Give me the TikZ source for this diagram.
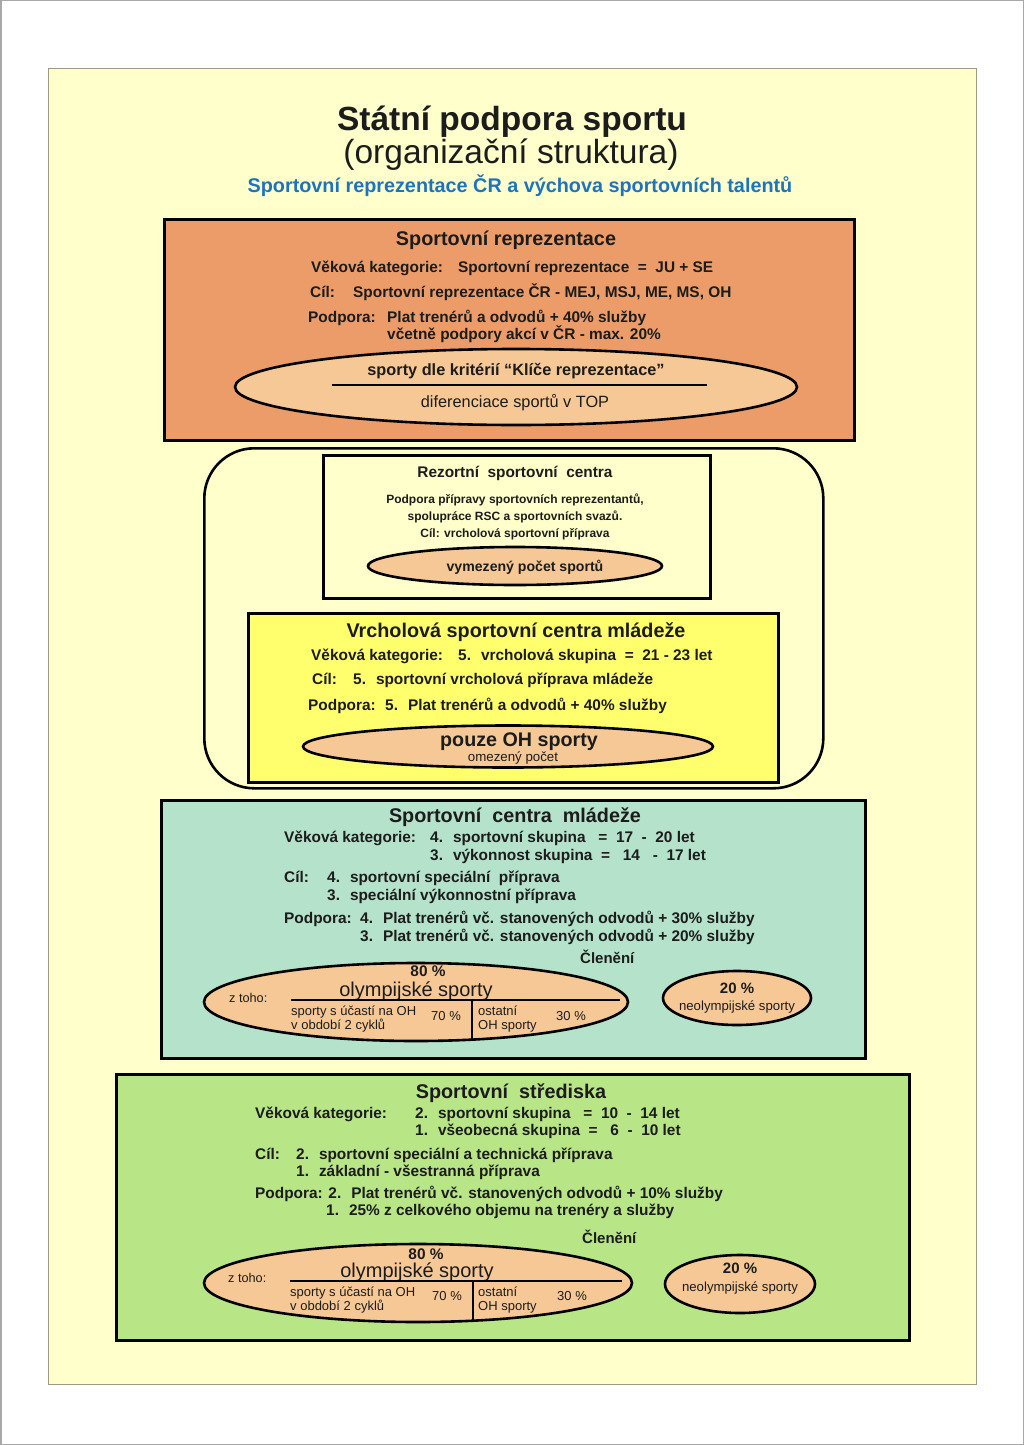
\documentclass[tikz,border=0pt]{standalone}
\usepackage{fontspec}
\setmainfont{Liberation Sans}
\usetikzlibrary{shapes.geometric}
\definecolor{bgy}{HTML}{FFFFCC}
\definecolor{bgline}{HTML}{9C9C84}
\definecolor{pageline}{HTML}{A8A8A8}
\definecolor{orng}{HTML}{EC9C68}
\definecolor{peach}{HTML}{F6C896}
\definecolor{ylw}{HTML}{FFFF6E}
\definecolor{mint}{HTML}{B5E2CB}
\definecolor{lgreen}{HTML}{B8E586}
\definecolor{blu}{HTML}{1E73BE}
\definecolor{ink}{HTML}{1C1C1C}
\newcommand\fsz[1]{\fontsize{#1pt}{#1pt}\selectfont}
\begin{document}
\begin{tikzpicture}[x=1pt,y=-1pt,
  txt/.style={inner sep=0pt, text=ink},
  ttl/.style={txt, font=\bfseries\fsz{33.5}, anchor=base},
  ttlr/.style={txt, font=\fsz{33.5}, anchor=base},
  sub/.style={txt, font=\bfseries\fsz{19.8}, text=blu, anchor=base},
  hd/.style={txt, font=\bfseries\fsz{19.8}, anchor=base},
  fb/.style={txt, font=\bfseries\fsz{15.4}, anchor=base west},
  rb/.style={txt, font=\bfseries\fsz{12}, anchor=base},
  elb/.style={txt, font=\bfseries\fsz{#1}, anchor=base},
  elr/.style={txt, font=\fsz{#1}, anchor=base},
  smr/.style={txt, font=\fsz{13}, anchor=base west},
  box/.style={draw=black, line width=3pt, anchor=north west, inner sep=0pt},
  oval/.style={ellipse, draw=black, line width=2.6pt, fill=peach, inner sep=0pt},
  sep/.style={draw=black, line width=2.6pt},
]
\useasboundingbox (0,0) rectangle (1024,1445);
\fill[white] (0,0) rectangle (1024,1445);
\draw[pageline, line width=1.5pt] (0.75,0.75) rectangle (1023.25,1444.25);
\node[draw=bgline, fill=bgy, line width=1.2pt, anchor=north west, inner sep=0pt,
  minimum width=928pt, minimum height=1316pt] (bg) at (48,68) {};

% titles
\node[ttl] (t1) at (512,130) {Státní podpora sportu};
\node[ttlr] (t2) at (511,163) {(organizační struktura)};
\node[sub] (t3) at (520,192) {Sportovní reprezentace ČR a výchova sportovních talentů};

% ---------- Box 1: Sportovni reprezentace
\node[box, fill=orng, minimum width=690pt, minimum height=221pt] (b1) at (163,218) {};
\node[hd] (b1t) at (506,245) {Sportovní reprezentace};
\node[fb] (b1a) at (311,272.5) {Věková kategorie:};
\node[fb] (b1b) at (458,272.5) {Sportovní reprezentace~ =~ JU + SE};
\node[fb] (b1c) at (310,297.5) {Cíl:};
\node[fb] (b1d) at (353,297.5) {Sportovní reprezentace ČR - MEJ, MSJ, ME, MS, OH};
\node[fb] (b1e) at (308,322.5) {Podpora:};
\node[fb] (b1f) at (387,322.5) {Plat trenérů a odvodů + 40\% služby};
\node[fb] (b1g) at (387,339.5) {včetně podpory akcí v ČR - max. 20\%};
\node[oval, minimum width=562pt, minimum height=76pt] (e1) at (516,387) {};
\coordinate (e1l) at (332,385);
\coordinate (e1r) at (707,385);
\draw[sep] (e1l) -- (e1r);
\node[elb=16.3] (e1a) at (516,375) {sporty dle kritérií “Klíče reprezentace”};
\node[elr=16.3] (e1b) at (515,407) {diferenciace sportů v TOP};

% ---------- Rounded group
\node[draw=black, line width=2.6pt, fill=bgy, rounded corners=50pt, anchor=north west,
  inner sep=0pt, minimum width=619pt, minimum height=340pt] (grp) at (203,447) {};

% RSC
\node[box, line width=2.6pt, fill=bgy, minimum width=387pt, minimum height=143pt] (b2) at (322,454) {};
\node[elb=15.4] (b2t) at (515,477.5) {Rezortní~ sportovní~ centra};
\node[rb] (b2a) at (515,503.3) {Podpora přípravy sportovních reprezentantů,};
\node[rb] (b2b) at (515,520.3) {spolupráce RSC a sportovních svazů.};
\node[rb] (b2c) at (515,537.3) {Cíl: vrcholová sportovní příprava};
\node[oval, minimum width=294pt, minimum height=38pt] (e2) at (515,566) {};
\node[elb=14.1] (e2a) at (525,571) {vymezený počet sportů};

% VSCM
\node[box, fill=ylw, minimum width=530pt, minimum height=169pt] (b3) at (247,612) {};
\node[hd] (b3t) at (516,637) {Vrcholová sportovní centra mládeže};
\node[fb] (b3a) at (311,660.5) {Věková kategorie:};
\node[fb] (b3b) at (458,660.5) {5.~ vrcholová skupina~ =~ 21 - 23 let};
\node[fb] (b3c) at (312,684.5) {Cíl:};
\node[fb] (b3d) at (353,684.5) {5.~ sportovní vrcholová příprava mládeže};
\node[fb] (b3e) at (308,710.5) {Podpora:};
\node[fb] (b3f) at (385,710.5) {5.~ Plat trenérů a odvodů + 40\% služby};
\node[oval, minimum width=410pt, minimum height=42pt] (e3) at (508,746.5) {};
\node[elb=19.7] (e3a) at (519,746.5) {pouze OH sporty};
\node[elr=13.3] (e3b) at (513,761) {omezený počet};

% ---------- SCM
\node[box, fill=mint, minimum width=704pt, minimum height=258pt] (b4) at (160,799) {};
\node[hd] (b4t) at (515,822) {Sportovní~ centra~ mládeže};
\node[fb] (b4a) at (284,842.5) {Věková kategorie:};
\node[fb] (b4b) at (430,842.5) {4.~ sportovní skupina~~ =~ 17~ -~ 20 let};
\node[fb] (b4c) at (430,860.5) {3.~ výkonnost skupina~ =~~ 14~~ -~ 17 let};
\node[fb] (b4d) at (284,882.5) {Cíl:};
\node[fb] (b4e) at (327,882.5) {4.~ sportovní speciální~ příprava};
\node[fb] (b4f) at (327,900.5) {3.~ speciální výkonnostní příprava};
\node[fb] (b4g) at (284,923.5) {Podpora:};
\node[fb] (b4h) at (360,923.5) {4.~ Plat trenérů vč. stanovených odvodů + 30\% služby};
\node[fb] (b4i) at (360,941.5) {3.~ Plat trenérů vč. stanovených odvodů + 20\% služby};
\node[txt, font=\bfseries\fsz{15}, anchor=base west] (b4j) at (580,963.5) {Členění};
\node[oval, minimum width=424pt, minimum height=78pt] (e4) at (416,1002) {};
\node[elb=15.4] (e4a) at (428,976.5) {80 \%};
\node[elr=20] (e4b) at (416,996) {olympijské sporty};
\coordinate (e4l) at (291,1000);
\coordinate (e4r) at (620,1000);
\coordinate (e4m) at (472,1000);
\coordinate (e4d) at (472,1041);
\draw[sep] (e4l) -- (e4r);
\draw[sep] (e4m) -- (e4d);
\node[txt, font=\fsz{12.7}, anchor=base west] (e4c) at (229,1002.5) {z toho:};
\node[smr] (e4e) at (291,1015.5) {sporty s účastí na OH};
\node[smr] (e4f) at (291,1029.5) {v období 2 cyklů};
\node[smr] (e4g) at (431,1020.5) {70 \%};
\node[smr] (e4h) at (478,1015.5) {ostatní};
\node[smr] (e4i) at (478,1029.5) {OH sporty};
\node[smr] (e4j) at (556,1020.5) {30 \%};
\node[oval, minimum width=148pt, minimum height=54pt] (e5) at (737,998) {};
\node[elb=15] (e5a) at (737,993.5) {20 \%};
\node[elr=13.2] (e5b) at (737,1010.5) {neolympijské sporty};

% ---------- SS
\node[box, line width=3.4pt, fill=lgreen, minimum width=793pt, minimum height=266pt] (b5) at (115,1073) {};
\node[hd] (b5t) at (511,1098) {Sportovní~ střediska};
\node[fb] (b5a) at (255,1118.5) {Věková kategorie:};
\node[fb] (b5b) at (415,1118.5) {2.~ sportovní skupina~~ =~ 10~ -~ 14 let};
\node[fb] (b5c) at (415,1135.5) {1.~ všeobecná skupina~ =~~ 6~ -~ 10 let};
\node[fb] (b5d) at (255,1159.5) {Cíl:};
\node[fb] (b5e) at (296,1159.5) {2.~ sportovní speciální a technická příprava};
\node[fb] (b5f) at (296,1176.5) {1.~ základní - všestranná příprava};
\node[fb] (b5g) at (255,1198.5) {Podpora: 2.~ Plat trenérů vč. stanovených odvodů + 10\% služby};
\node[fb] (b5h) at (326,1215.5) {1.~ 25\% z celkového objemu na trenéry a služby};
\node[txt, font=\bfseries\fsz{15}, anchor=base west] (b5j) at (582,1243.5) {Členění};
\node[oval, minimum width=428pt, minimum height=78pt] (e6) at (418,1283) {};
\node[elb=15.4] (e6a) at (426,1259.5) {80 \%};
\node[elr=20] (e6b) at (417,1277.5) {olympijské sporty};
\coordinate (e6l) at (290,1281);
\coordinate (e6r) at (622,1281);
\coordinate (e6m) at (473,1281);
\coordinate (e6d) at (473,1322);
\draw[sep] (e6l) -- (e6r);
\draw[sep] (e6m) -- (e6d);
\node[txt, font=\fsz{12.7}, anchor=base west] (e6c) at (228,1282.5) {z toho:};
\node[smr] (e6e) at (290,1296.5) {sporty s účastí na OH};
\node[smr] (e6f) at (290,1310.5) {v období 2 cyklů};
\node[smr] (e6g) at (432,1300.5) {70 \%};
\node[smr] (e6h) at (478,1296.5) {ostatní};
\node[smr] (e6i) at (478,1310.5) {OH sporty};
\node[smr] (e6j) at (557,1300.5) {30 \%};
\node[oval, minimum width=150pt, minimum height=58pt] (e7) at (740,1284) {};
\node[elb=15] (e7a) at (740,1273.5) {20 \%};
\node[elr=13.2] (e7b) at (740,1291.5) {neolympijské sporty};
\end{tikzpicture}
\end{document}
